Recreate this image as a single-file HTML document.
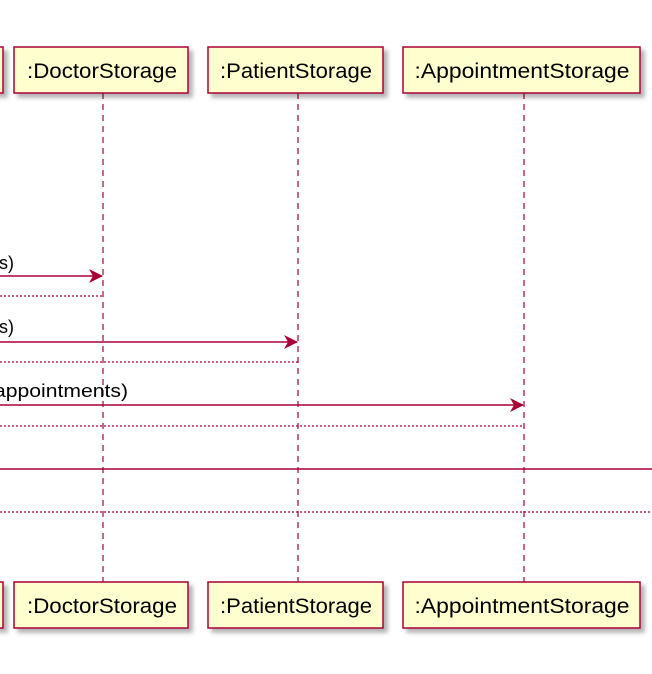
<!DOCTYPE html><html><head><style>body{margin:0;background:#fff}</style></head><body>
<svg width="652" height="674" xmlns="http://www.w3.org/2000/svg" style="display:block">
<defs><filter id="s"><feDropShadow dx="4" dy="4" stdDeviation="2" flood-color="#000" flood-opacity="0.3"/></filter></defs>
<g stroke="#A80036" stroke-width="1.2" stroke-dasharray="6,5">
<line x1="103" y1="93" x2="103" y2="582"/><line x1="298" y1="93" x2="298" y2="582"/><line x1="524" y1="93" x2="524" y2="582"/>
</g>
<g fill="#FEFECE" stroke="#A80036" stroke-width="1.5" filter="url(#s)">
<rect x="-10" y="47" width="13" height="46"/><rect x="14" y="47" width="174" height="46"/><rect x="208" y="47" width="175" height="46"/><rect x="403" y="47" width="237" height="46"/>
<rect x="-10" y="582" width="13" height="46"/><rect x="14" y="582" width="174" height="46"/><rect x="208" y="582" width="175" height="46"/><rect x="403" y="582" width="237" height="46"/>
</g>
<g font-family="Liberation Sans, sans-serif" font-size="21" fill="#000" text-anchor="middle">
<text x="102" y="78" textLength="150" lengthAdjust="spacingAndGlyphs">:DoctorStorage</text><text x="296" y="78" textLength="152" lengthAdjust="spacingAndGlyphs">:PatientStorage</text><text x="522" y="78" textLength="215" lengthAdjust="spacingAndGlyphs">:AppointmentStorage</text>
<text x="102" y="613" textLength="150" lengthAdjust="spacingAndGlyphs">:DoctorStorage</text><text x="296" y="613" textLength="152" lengthAdjust="spacingAndGlyphs">:PatientStorage</text><text x="522" y="613" textLength="215" lengthAdjust="spacingAndGlyphs">:AppointmentStorage</text>
</g>
<g stroke="#A80036" stroke-width="1.5" fill="none">
<line x1="0" y1="276" x2="102" y2="276"/><line x1="0" y1="342" x2="297" y2="342"/><line x1="0" y1="405" x2="523" y2="405"/><line x1="0" y1="469" x2="652" y2="469"/>
<g stroke-dasharray="2,2" stroke-width="1.2"><line x1="0" y1="296" x2="103" y2="296"/><line x1="0" y1="362" x2="298" y2="362"/><line x1="0" y1="426" x2="524" y2="426"/><line x1="0" y1="512" x2="652" y2="512"/></g>
</g>
<g fill="#A80036">
<polygon points="103,276 89,269 93,276 89,283"/><polygon points="298,342 284,335 288,342 284,349"/><polygon points="524,405 510,398 514,405 510,412"/>
</g>
<g font-family="Liberation Sans, sans-serif" font-size="18" fill="#000">
<text x="-1" y="269">s)</text><text x="-1" y="333">s)</text><text x="-6" y="397" textLength="134" lengthAdjust="spacingAndGlyphs">appointments)</text>
</g>
</svg></body></html>
